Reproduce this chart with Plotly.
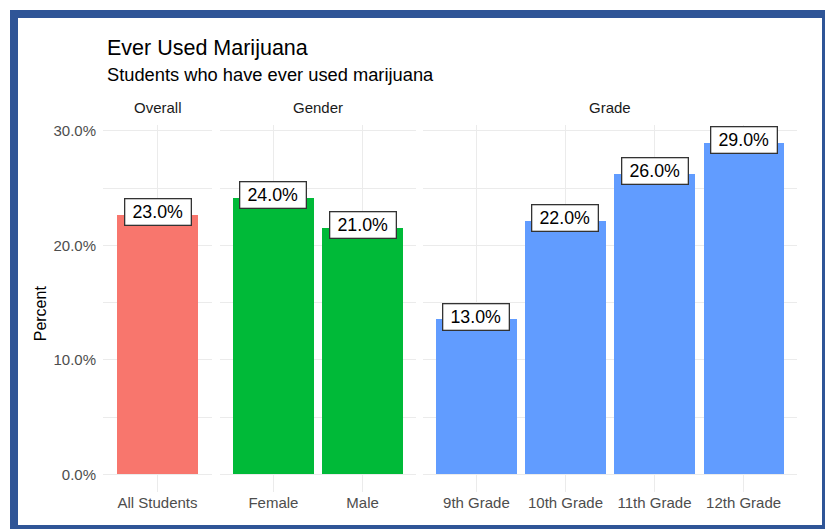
import plotly.graph_objects as go

# ---------------- data ----------------
overall_cats = ["All Students"]
overall_vals = [22.6]
overall_labels = [23.0]

gender_cats = ["Female", "Male"]
gender_vals = [24.1, 21.5]
gender_labels = [24.0, 21.0]

grade_cats = ["9th Grade", "10th Grade", "11th Grade", "12th Grade"]
grade_vals = [13.5, 22.1, 26.2, 28.9]
grade_labels = [13.0, 22.0, 26.0, 29.0]

facet_names = ["Overall", "Gender", "Grade"]
facet_colors = ["#F8766D", "#00BA38", "#619CFF"]

y_tickvals = [0, 10, 20, 30]
y_minor = [5, 15, 25]

title_text = "Ever Used Marijuana"
subtitle_text = "Students who have ever used marijuana"
y_title = "Percent"

# ---------------- layout helpers ----------------
W, H = 833, 529
OFF = 8  # page body margin
FONT = "Liberation Sans, Arial, sans-serif"


def fx(px):
    return (px - OFF) / W


def fy(py):
    return 1 - (py - OFF) / H


panel_px = [(103, 212), (220, 416), (423, 797)]
panel_top, panel_bottom = 123, 492
GRID = "#EBEBEB"

fig = go.Figure()

groups = [
    (overall_cats, overall_vals, overall_labels),
    (gender_cats, gender_vals, gender_labels),
    (grade_cats, grade_vals, grade_labels),
]

annotations = []
for i, ((cats, vals, labs), color, name, (x0, x1)) in enumerate(
        zip(groups, facet_colors, facet_names, panel_px)):
    xa = "x" if i == 0 else f"x{i+1}"
    fig.add_trace(go.Bar(
        x=cats, y=vals, xaxis=xa, yaxis="y",
        marker=dict(color=color, line=dict(width=0)),
        width=0.9, showlegend=False, hoverinfo="skip",
    ))
    axis_key = "xaxis" if i == 0 else f"xaxis{i+1}"
    fig.layout[axis_key] = dict(
        domain=[fx(x0), fx(x1)], anchor="y", type="category",
        range=[-0.6, len(cats) - 0.4],
        showgrid=True, gridcolor=GRID, gridwidth=1.2,
        showline=False, zeroline=False, ticks="",
        tickfont=dict(family=FONT, size=15, color="#4D4D4D"),
        fixedrange=True,
    )
    # strip label
    annotations.append(dict(
        x=fx((x0 + x1) / 2), y=fy(105), xref="paper", yref="paper",
        text=name, showarrow=False, xanchor="center", yanchor="middle",
        font=dict(family=FONT, size=15, color="#1A1A1A"),
    ))
    # value labels
    for c, v, l in zip(cats, vals, labs):
        annotations.append(dict(
            x=c, y=v, xref=xa, yref="y", text=f"{l:.1f}%", showarrow=False,
            xanchor="center", yanchor="middle", yshift=3,
            font=dict(family=FONT, size=17.8, color="#000000"),
            bgcolor="white", bordercolor="#333333", borderwidth=1.3,
            borderpad=1, width=63, height=23,
        ))

fig.update_layout(
    yaxis=dict(
        domain=[fy(panel_bottom), fy(panel_top)], anchor="x",
        range=[-1.56, 30.47],
        tickvals=y_tickvals, ticktext=[f"{v:.1f}%" for v in y_tickvals],
        showgrid=True, gridcolor=GRID, gridwidth=1.2,
        minor=dict(tickvals=y_minor, showgrid=True, gridcolor=GRID, gridwidth=0.8),
        zeroline=False, showline=False, ticks="",
        ticklabelstandoff=6,
        tickfont=dict(family=FONT, size=15, color="#4D4D4D"),
        fixedrange=True,
    ),
)

annotations += [
    dict(x=fx(105), y=fy(45), xref="paper", yref="paper", text=title_text,
         showarrow=False, xanchor="left", yanchor="middle",
         font=dict(family=FONT, size=21.5, color="#000000")),
    dict(x=fx(105), y=fy(72), xref="paper", yref="paper", text=subtitle_text,
         showarrow=False, xanchor="left", yanchor="middle",
         font=dict(family=FONT, size=18.3, color="#000000")),
    dict(x=fx(40), y=fy(312), xref="paper", yref="paper", text=y_title,
         showarrow=False, xanchor="center", yanchor="middle", textangle=-90,
         font=dict(family=FONT, size=16, color="#000000")),
]

fig.update_layout(
    width=W, height=H, autosize=False,
    margin=dict(l=0, r=0, t=0, b=0, pad=0),
    paper_bgcolor="white", plot_bgcolor="white",
    bargap=0, annotations=annotations,
    shapes=[dict(type="rect", xref="paper", yref="paper",
                 x0=fx(14), x1=fx(826), y0=fy(529), y1=fy(11),
                 line=dict(color="#2F5597", width=8), layer="above")],
)

fig.write_html("out.html", config={"displayModeBar": False})
